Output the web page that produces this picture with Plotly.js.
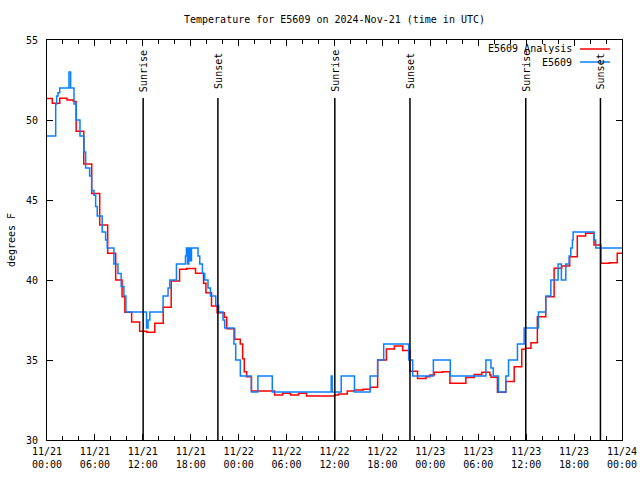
<!DOCTYPE html>
<html>
<head>
<meta charset="utf-8">
<script src="https://cdn.plot.ly/plotly-3.0.1.min.js"></script>
<style>html,body{margin:0;padding:0;background:#fff;}#chart{width:640px;height:480px;}</style>
</head>
<body>
<div id="chart"></div>
<script>
// Hours since 2024-11-21 00:00 UTC
const analysisHours = [0, 0.66, 1.6, 2.5, 3.3, 3.65, 4.6, 5.6, 6.6, 7.6, 8.6, 9.4, 9.75, 10.6, 11.6, 12.5, 13.5, 14.55, 15.55, 16.6, 17.5, 18.6, 19.6, 19.9, 20.6, 21.3, 22.2, 22.5, 23.5, 24.2, 24.5, 24.7, 25.0, 25.6, 28.5, 29.5, 30.5, 31.5, 32.5, 36.0, 36.5, 37.6, 38.5, 39.6, 40.5, 41.4, 42.5, 43.5, 44.55, 45.45, 46.4, 47.45, 47.95, 48.5, 49.5, 50.45, 52.45, 53.5, 54.45, 55.45, 55.6, 56.4, 57.45, 58.5, 59.45, 59.9, 60.6, 61.4, 62.45, 63.5, 64.45, 65.45, 66.4, 67.45, 68.5, 69.35, 70.45, 71.4, 72];
const analysisTemps = [51.35, 51.04, 51.36, 51.25, 51.15, 49.3, 47.25, 45.4, 43.44, 41.67, 40.0, 38.96, 37.98, 37.37, 36.8, 36.73, 37.3, 38.3, 39.94, 40.67, 40.72, 40.42, 39.79, 39.2, 38.38, 37.96, 37.67, 36.96, 36.3, 36.0, 35.08, 34.27, 33.96, 33.06, 32.81, 32.92, 32.81, 32.92, 32.75, 32.81, 32.88, 33.06, 33.12, 33.17, 33.29, 35.0, 35.69, 35.88, 35.6, 34.3, 33.85, 33.96, 34.06, 34.23, 34.27, 33.54, 33.9, 34.1, 34.23, 34.06, 33.92, 32.98, 33.65, 34.58, 35.67, 35.73, 36.08, 37.71, 38.96, 40.73, 40.88, 41.46, 42.75, 42.92, 42.19, 41.04, 41.08, 41.67, 41.67];

const obsHours = [0, 1.09, 1.21, 1.38, 1.59, 2.75, 2.96, 3.38, 3.66, 4.13, 4.63, 4.84, 5.34, 5.59, 5.88, 6.09, 6.29, 6.91, 7.34, 7.54, 8.38, 8.88, 9.29, 9.63, 9.88, 12.46, 12.66, 12.88, 14.54, 15.16, 15.38, 16.21, 17.34, 17.46, 17.6, 17.75, 17.9, 18.09, 18.91, 19.13, 19.46, 19.75, 20.16, 20.46, 21.13, 21.5, 22.04, 22.25, 23.41, 23.63, 24.21, 25.59, 26.41, 28.21, 35.59, 35.71, 36.84, 38.5, 40.46, 41.41, 42.16, 45.29, 45.79, 48.38, 50.5, 54.96, 55.59, 55.88, 56.54, 57.46, 57.79, 58.91, 59.75, 61.54, 62.46, 63.09, 64.0, 64.41, 64.96, 65.38, 65.59, 65.79, 65.88, 68.5, 68.71, 72];
const obsTemps = [49.0, 51.0, 51.5, 51.7, 52.0, 53.0, 52.0, 51.0, 50.0, 49.0, 48.0, 47.0, 46.5, 45.6, 45.3, 44.6, 44.0, 43.0, 42.5, 42.0, 41.0, 40.4, 39.6, 39.0, 38.0, 37.0, 37.5, 38.0, 39.0, 39.5, 40.0, 41.0, 41.5, 42.0, 41.0, 42.0, 41.2, 42.0, 41.5, 41.0, 40.4, 40.0, 39.5, 39.0, 38.4, 38.0, 37.5, 37.0, 36.0, 35.0, 34.0, 33.0, 34.0, 33.0, 34.0, 33.0, 34.0, 33.0, 34.0, 35.0, 36.0, 35.0, 34.0, 35.0, 34.0, 35.0, 34.5, 34.0, 33.0, 34.0, 35.0, 36.0, 37.0, 38.0, 39.0, 40.0, 41.0, 40.0, 41.0, 41.5, 42.0, 42.5, 43.0, 42.5, 42.0, 42.0];

const eventLabels = ["Sunrise", "Sunset", "Sunrise", "Sunset", "Sunrise", "Sunset"];
const eventHours = [12.04, 21.4, 36.04, 45.45, 59.95, 69.3];

const seriesNames = ["E5609 Analysis", "E5609"];
const seriesColors = ["#ff0000", "#0a7fff"];

const t0 = Date.UTC(2024, 10, 21);
function toDate(h) {
  return new Date(t0 + h * 3600000).toISOString().slice(0, 19).replace('T', ' ');
}

const FONT = {family: "DejaVu Sans Mono, monospace", size: 10, color: "#000"};

const traces = [
  {x: analysisHours.map(toDate), y: analysisTemps, name: seriesNames[0], type: 'scatter', mode: 'lines',
   line: {shape: 'hv', color: seriesColors[0], width: 1.5}},
  {x: obsHours.map(toDate), y: obsTemps, name: seriesNames[1], type: 'scatter', mode: 'lines',
   line: {shape: 'hv', color: seriesColors[1], width: 1.5}}
];

const shapes = [];
const annotations = [];
eventHours.forEach((h, i) => {
  shapes.push({type: 'line', xref: 'x', yref: 'paper', x0: toDate(h), x1: toDate(h), y0: 0, y1: 0.855,
               line: {color: '#000', width: 1.5}});
  annotations.push({xref: 'x', yref: 'paper', x: toDate(h), y: 0.9225, text: eventLabels[i], textangle: -90,
                    showarrow: false, xanchor: 'center', yanchor: 'middle', font: FONT});
});
// legend (gnuplot style: text then sample line)
const legendY = [0.9775, 0.945];
seriesNames.forEach((n, i) => {
  annotations.push({xref: 'paper', yref: 'paper', x: 0.9165, y: legendY[i], text: n, showarrow: false,
                    xanchor: 'right', yanchor: 'middle', font: FONT});
  shapes.push({type: 'line', xref: 'paper', yref: 'paper', x0: 0.927, x1: 0.979, y0: legendY[i], y1: legendY[i],
               line: {color: seriesColors[i], width: 1.5}});
});

const layout = {
  width: 640, height: 480,
  margin: {l: 47, r: 18, t: 40, b: 40},
  paper_bgcolor: '#fff', plot_bgcolor: '#fff',
  font: FONT,
  showlegend: false,
  title: {text: "Temperature for E5609 on 2024-Nov-21 (time in UTC)", font: FONT,
          x: 0.5, xref: 'paper', y: 1 - 19 / 480, yref: 'container', yanchor: 'middle'},
  xaxis: {
    type: 'date', range: [toDate(0), toDate(72)],
    dtick: 6 * 3600000, tick0: toDate(0), tickformat: '%m/%d<br>%H:%M',
    ticks: 'inside', ticklen: 6, tickcolor: '#000', tickwidth: 1,
    minor: {dtick: 2 * 3600000, ticks: 'inside', ticklen: 4, tickcolor: '#000', showgrid: false},
    showline: true, linecolor: '#000', linewidth: 1, mirror: 'allticks',
    showgrid: false, zeroline: false, tickfont: FONT, ticklabelstandoff: 2
  },
  yaxis: {
    range: [30, 55], dtick: 5, tick0: 30,
    ticks: 'inside', ticklen: 6, tickcolor: '#000', tickwidth: 1,
    showline: true, linecolor: '#000', linewidth: 1, mirror: 'allticks',
    showgrid: false, zeroline: false, tickfont: FONT, ticklabelstandoff: 6,
    title: {text: "degrees F", font: FONT, standoff: 8}
  },
  shapes: shapes,
  annotations: annotations
};

Plotly.newPlot('chart', traces, layout, {staticPlot: true});
</script>
</body>
</html>
